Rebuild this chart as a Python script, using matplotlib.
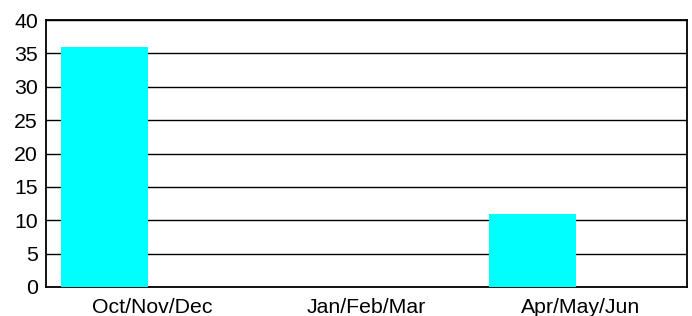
import matplotlib
matplotlib.use("Agg")
import matplotlib.pyplot as plt
import numpy as np

categories = ["Oct/Nov/Dec", "Jan/Feb/Mar", "Apr/May/Jun"]
values = [36, 0, 11]
yticks = [0, 5, 10, 15, 20, 25, 30, 35, 40]

plt.rcParams['font.family'] = ['Liberation Sans', 'DejaVu Sans']

fig = plt.figure(figsize=(6.92, 3.16), dpi=100)
ax = fig.add_axes([45.5/692, 1 - 287/316, (687-45.5)/692, (287-20)/316])

x = np.arange(len(categories))
ax.bar(x - 0.222, values, width=0.407, color="#00FFFF", zorder=3)

ax.set_xlim(-0.5, 2.5)
ax.set_ylim(0, 40)
ax.set_yticks(yticks)
ax.set_yticklabels([str(t) for t in yticks])
ax.set_xticks(x)
ax.set_xticklabels(categories)
ax.tick_params(axis='both', length=0, labelsize=15.3, colors='black')
ax.tick_params(axis='y', pad=5.5)
ax.tick_params(axis='x', pad=8)
ax.yaxis.grid(True, color='black', linewidth=1.0, zorder=0)
ax.set_axisbelow(True)
for s in ax.spines.values():
    s.set_color('black')
    s.set_linewidth(1.3)

fig.savefig("out.png", dpi=100)
